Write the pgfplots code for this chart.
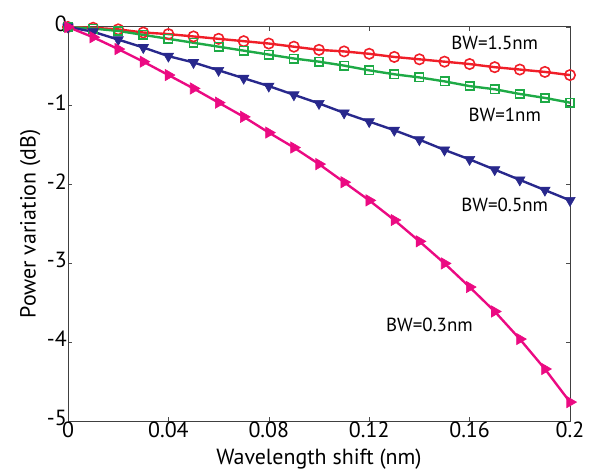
\documentclass[border=0pt]{standalone}
\usepackage{pgfplots}
\pgfplotsset{compat=1.18}
\usepackage{fontspec}
\setmainfont{PT Sans}
\definecolor{cred}{RGB}{240,30,40}
\definecolor{cgreen}{RGB}{30,170,70}
\definecolor{cblue}{RGB}{40,40,140}
\definecolor{cmag}{RGB}{235,10,130}
\begin{document}
\begin{tikzpicture}
\begin{axis}[
  scale only axis, width=502bp, height=394bp,
  xmin=0, xmax=0.2, ymin=-5, ymax=0,
  xtick={0,0.04,0.08,0.12,0.16,0.2},
  xticklabels={0,0.04,0.08,0.12,0.16,0.2},
  ytick={-5,-4,-3,-2,-1,0},
  yticklabels={-5,-4,-3,-2,-1,0},
  tick align=inside, major tick length=4bp,
  tick style={black!70, line width=0.6pt},
  axis line style={black!75, line width=1pt},
  ticklabel style={font=\fontsize{22}{24}\selectfont},
  label style={font=\fontsize{22}{24}\selectfont},
  /pgf/number format/assume math mode=true,
  xlabel={Wavelength shift (nm)},
  ylabel={Power variation (dB)},
  xlabel style={at={(rel axis cs:0.5,0)}, anchor=south, yshift=-49bp, inner sep=0pt},
  ylabel style={yshift=2bp},
  xticklabel style={yshift=0bp, inner sep=1pt},
  yticklabel style={xshift=0bp, yshift=3bp, inner sep=1pt},
  every axis plot/.append style={line width=2.4pt},
]
\coordinate (ll) at (rel axis cs:0,0);
\coordinate (ur) at (rel axis cs:1,1);
\addplot[cred, mark=o, mark size=5.2bp, mark options={line width=1.6pt}] coordinates {
(0,0)(0.01,-0.01)(0.02,-0.03)(0.03,-0.07)(0.04,-0.09)(0.05,-0.12)(0.06,-0.15)(0.07,-0.18)(0.08,-0.21)(0.09,-0.25)(0.10,-0.29)(0.11,-0.31)(0.12,-0.34)(0.13,-0.38)(0.14,-0.41)(0.15,-0.44)(0.16,-0.47)(0.17,-0.51)(0.18,-0.54)(0.19,-0.57)(0.20,-0.61)};
\addplot[cgreen, mark=square, mark size=4.2bp, mark options={line width=1.6pt, fill=cgreen!45}] coordinates {
(0,0)(0.01,-0.02)(0.02,-0.05)(0.03,-0.10)(0.04,-0.15)(0.05,-0.20)(0.06,-0.25)(0.07,-0.30)(0.08,-0.35)(0.09,-0.40)(0.10,-0.44)(0.11,-0.49)(0.12,-0.55)(0.13,-0.60)(0.14,-0.64)(0.15,-0.69)(0.16,-0.75)(0.17,-0.79)(0.18,-0.85)(0.19,-0.90)(0.20,-0.96)};
\addplot[cblue, mark=triangle*, mark size=6bp, mark options={rotate=180, line width=0.6pt}] coordinates {
(0,0)(0.01,-0.06)(0.02,-0.16)(0.03,-0.26)(0.04,-0.37)(0.05,-0.45)(0.06,-0.55)(0.07,-0.65)(0.08,-0.75)(0.09,-0.86)(0.10,-0.97)(0.11,-1.09)(0.12,-1.20)(0.13,-1.31)(0.14,-1.43)(0.15,-1.56)(0.16,-1.68)(0.17,-1.81)(0.18,-1.94)(0.19,-2.07)(0.20,-2.20)};
\addplot[cmag, mark=triangle*, mark size=6.5bp, mark options={rotate=-90, line width=0.6pt}] coordinates {
(0,0)(0.01,-0.13)(0.02,-0.28)(0.03,-0.44)(0.04,-0.61)(0.05,-0.78)(0.06,-0.96)(0.07,-1.14)(0.08,-1.34)(0.09,-1.53)(0.10,-1.74)(0.11,-1.97)(0.12,-2.20)(0.13,-2.45)(0.14,-2.72)(0.15,-3.00)(0.16,-3.30)(0.17,-3.61)(0.18,-3.96)(0.19,-4.34)(0.20,-4.76)};
\node[font=\fontsize{19}{21}\selectfont] at (axis cs:0.170,-0.20) {BW=1.5nm};
\node[font=\fontsize{19}{21}\selectfont] at (axis cs:0.174,-1.12) {BW=1nm};
\node[font=\fontsize{19}{21}\selectfont] at (axis cs:0.174,-2.26) {BW=0.5nm};
\node[font=\fontsize{19}{21}\selectfont] at (axis cs:0.144,-3.78) {BW=0.3nm};
\end{axis}
\pgfresetboundingbox
\useasboundingbox ([shift={(-68bp,-49bp)}]ll) rectangle ([shift={(19bp,27bp)}]ur);
\end{tikzpicture}
\end{document}
